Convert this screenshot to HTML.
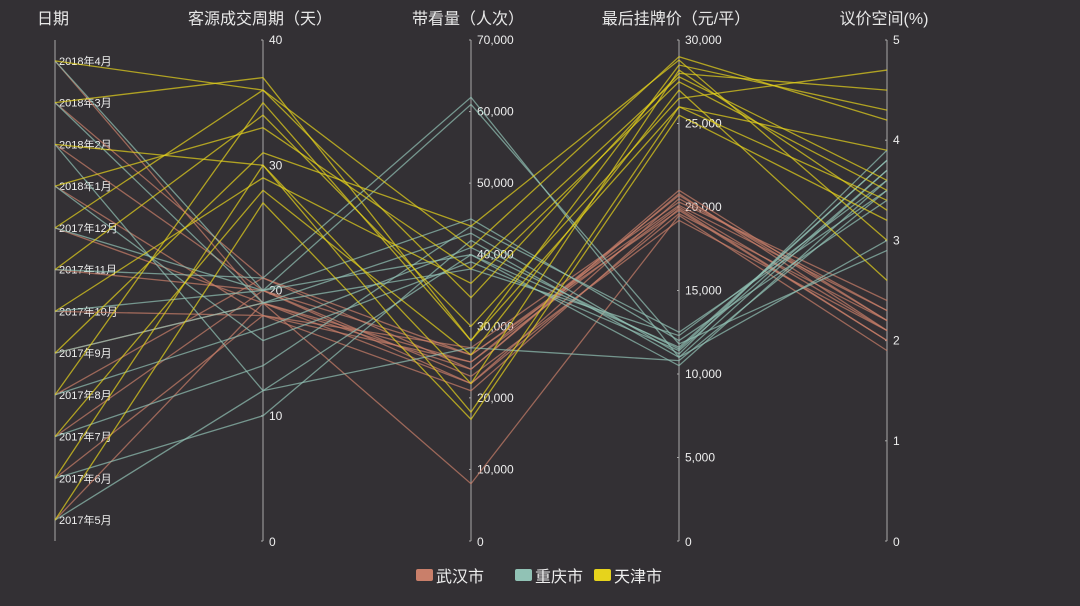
<!DOCTYPE html>
<html><head><meta charset="utf-8">
<style>
html,body{margin:0;padding:0;background:#333034;}
svg{display:block;font-family:"Liberation Sans","Noto Sans CJK SC",sans-serif;}
</style></head>
<body>
<svg id="chart" width="1080" height="606">
<rect width="1080" height="606" fill="#333034"/>
<g id="axes"></g>
<g id="lines"></g>
<g id="legend"></g>
</svg>
<script>
const months = ["2017年5月","2017年6月","2017年7月","2017年8月","2017年9月","2017年10月","2017年11月","2017年12月","2018年1月","2018年2月","2018年3月","2018年4月"];
const cities = ["武汉市","重庆市","天津市"];
const dimNames = ["日期","客源成交周期（天）","带看量（人次）","最后挂牌价（元/平）","议价空间(%)"];
const dimMax = [null,40,70000,30000,5];
const tickVals = [null,[0,10,20,30,40],[0,10000,20000,30000,40000,50000,60000,70000],[0,5000,10000,15000,20000,25000,30000],[0,1,2,3,4,5]];
// Wuhan
const whPeriod = [19,18,20,21,19,18,20,19,18,20,21,19];
const whViews = [8000,25000,22000,26000,24000,27000,23000,25000,21000,26000,24000,22000];
const whPrice = [19500,20000,20500,19800,21000,20300,19200,20700,19900,20100,20800,19600];
const whBargain = [1.9,2.1,2.3,2.0,2.2,2.4,2.1,2.2,2.0,2.3,2.1,2.2];
// Chongqing
const cqPeriod = [12,10,14,17,19,20,21,20,16,12,19,20];
const cqViews = [40000,42000,44000,41000,43000,45000,62000,61000,39000,27000,38000,40000];
const cqPrice = [10500,11000,12500,11500,11200,12000,11000,11800,11400,10800,12300,11600];
const cqBargain = [3.6,3.7,3.5,3.8,3.9,3.4,3.0,2.9,3.7,3.5,3.6,3.8];
// Tianjin
const tjPeriod = [27,30,28,35,31,29,34,36,33,30,37,36];
const tjViews = [17000,18000,26000,28000,44000,36000,30000,41000,38000,22000,28000,34000];
const tjPrice = [25500,26000,27000,28500,28800,27500,26500,29000,27800,28200,26000,28000];
const tjBargain = [3.2,3.4,2.6,4.3,3.0,3.5,4.7,4.2,3.6,3.3,3.9,4.5];

const colors = ["#c97f6a","#91c2b5","#e6d31c"];
const seriesData = [[whPeriod,whViews,whPrice,whBargain],[cqPeriod,cqViews,cqPrice,cqBargain],[tjPeriod,tjViews,tjPrice,tjBargain]];
const axX = [55,263,471,679,887], yTop=40, yBot=541;
const NS="http://www.w3.org/2000/svg";
function mk(tag,attrs,parent){const e=document.createElementNS(NS,tag);for(const k in attrs)e.setAttribute(k,attrs[k]);parent.appendChild(e);return e;}
function yCat(i){return yBot-(i+0.5)*(yBot-yTop)/months.length;}
function yVal(d,v){return yBot-v/dimMax[d]*(yBot-yTop);}
const axes=document.getElementById('axes');
axX.forEach((x,d)=>{
  const l=mk('line',{x1:x,x2:x,y1:yTop,y2:yBot,stroke:'#a8a8a8','stroke-width':1},axes);
  
  
  const t=mk('text',{x:x-3,y:24,fill:'#e8e8e8','font-size':16,'text-anchor':d==0?'start':'middle'},axes);
  if(d==0)t.setAttribute('x',37);
  t.textContent=dimNames[d];
  
  
  if(d==0){
    months.forEach((m,i)=>{
      const tt=mk('text',{x:x+4,y:yCat(i)+4,fill:'#eeeeee','font-size':11},axes);
      tt.textContent=m;
      
      
    });
  } else {
    tickVals[d].forEach(v=>{
      const y=yVal(d,v);
      mk('line',{x1:x-2,x2:x,y1:y,y2:y,stroke:'#a8a8a8'},axes);
      const tt=mk('text',{x:x+6,y:v==0?y+5:y+4,fill:'#eeeeee','font-size':12},axes);
      tt.textContent=v.toLocaleString('en-US');
      
      
    });
  }
});
const lines=document.getElementById('lines');
seriesData.forEach((s,c)=>{
  months.forEach((m,i)=>{
    const pts=[[axX[0],yCat(i)]];
    for(let d=1;d<5;d++)pts.push([axX[d],yVal(d,s[d-1][i])]);
    const p=mk('polyline',{points:pts.map(p=>p.join(',')).join(' '),fill:'none',stroke:colors[c],'stroke-width':1.3,'stroke-opacity':0.7},lines);
    
    
  });
});
const leg=document.getElementById('legend');
const lx=[416,515,594];
cities.forEach((c,i)=>{
  const r=mk('rect',{x:lx[i],y:569,width:17,height:12,rx:2,fill:colors[i]},leg);
  
  
  const t=mk('text',{x:lx[i]+20,y:582,fill:'#eeeeee','font-size':16},leg);
  t.textContent=c;
  
  
});
</script>
</body></html>
